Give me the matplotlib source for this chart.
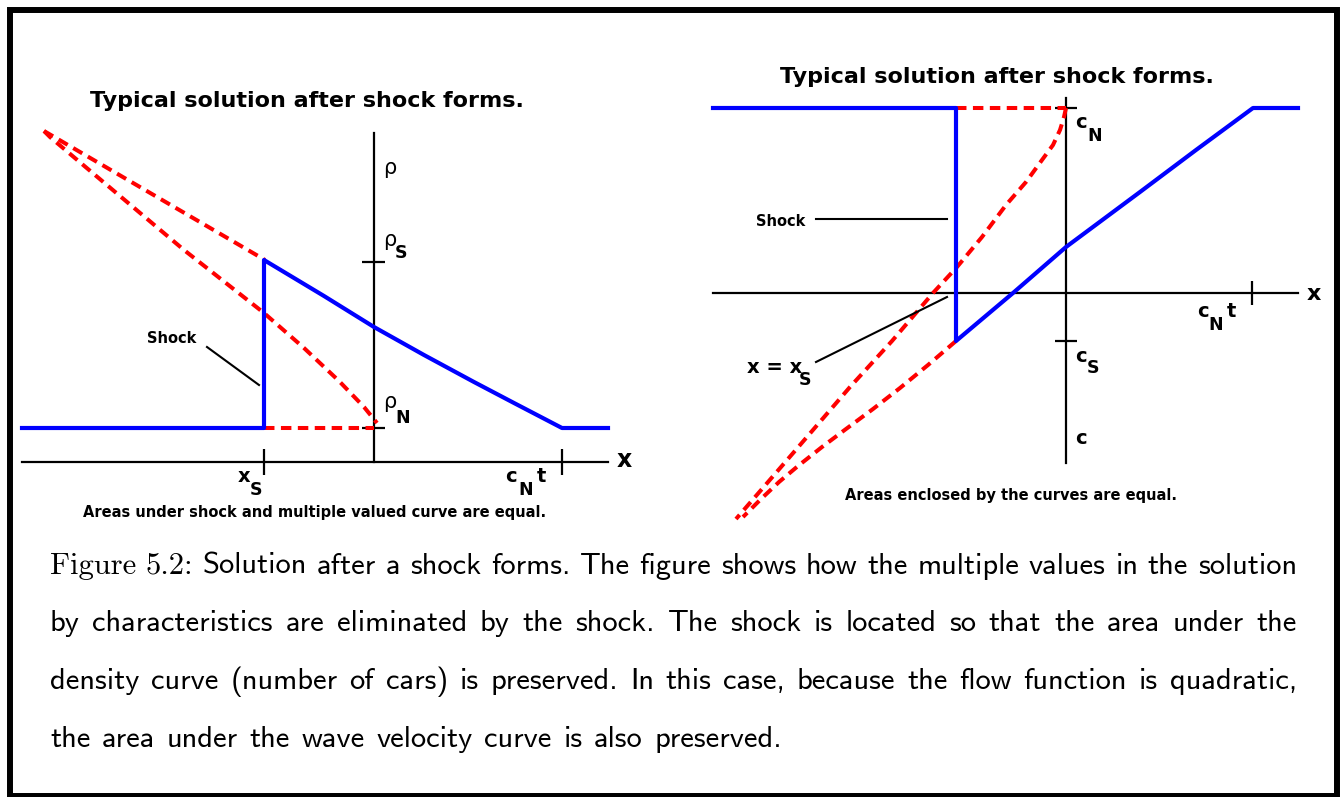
import matplotlib.pyplot as plt
from matplotlib.patches import Rectangle
from matplotlib.transforms import IdentityTransform

# ---- left sketch: density rho(x), sketch units (origin where the axes cross)
rho_x_axis = [-35.2, 23.4]
rho_y_axis = [0.0, 32.9]
rho_ticks_y = [20.0, 3.4]          # rho_S, rho_N
rho_ticks_x = [-11.0, 18.8]        # x_S, c_N t

rho_blue_x = [-35.2, -11.0, -11.0, -5.0, 0.0, 5.0, 10.0, 14.0, 18.8, 23.4]
rho_blue_y = [3.4, 3.4, 20.2, 16.6, 13.5, 10.7, 8.0, 5.9, 3.4, 3.4]
rho_upper_x = [-33.0, -10.9]
rho_upper_y = [33.1, 20.2]
rho_lower_x = [-33.0, -32.4, -26.0, -19.0, -11.0, -7.0, -3.5, -1.0, 0.3]
rho_lower_y = [33.1, 32.5, 27.1, 21.2, 14.9, 11.4, 8.1, 5.5, 3.9]
rho_flat_x = [-11.0, 0.0]
rho_flat_y = [3.4, 3.4]

# ---- right sketch: wave velocity c(x)
c_x_axis = [-35.3, 23.2]
c_y_axis = [-17.0, 19.5]
c_ticks_y = [18.5, -4.8]           # c_N, c_S
c_ticks_x = [18.6]                 # c_N t

c_blue_x = [-35.3, -11.0, -11.0, -5.3, 0.0, 7.4, 13.0, 18.7, 23.2]
c_blue_y = [18.5, 18.5, -4.8, 0.0, 4.6, 10.1, 14.3, 18.5, 18.5]
c_upper_x = [0.0, -0.2, -0.6, -1.3, -2.4, -4.0, -6.0, -8.4, -10.9, -13.3, -17.4, -21.6, -27.2, -33.0]
c_upper_y = [18.5, 17.6, 16.3, 14.8, 13.3, 11.1, 8.8, 5.6, 2.6, 0.0, -4.8, -9.4, -15.9, -22.6]
c_lower_x = [-11.0, -13.8, -16.6, -19.3, -22.0, -24.4, -26.8, -28.7, -30.5, -32.3]
c_lower_y = [-4.8, -7.2, -9.5, -11.6, -13.6, -15.4, -17.3, -18.9, -20.6, -22.4]
c_flat_x = [-11.0, 0.0]
c_flat_y = [18.5, 18.5]

caption = [
    "Figure 5.2: Solution after a shock forms.  The figure shows how the multiple values in the solution",
    "by characteristics are eliminated by the shock.  The shock is located so that the area under the",
    "density curve (number of cars) is preserved.  In this case, because the flow function is quadratic,",
    "the area under the wave velocity curve is also preserved.",
]

BLUE = '#0000ff'
RED = '#ff0000'
DASH = (0, (2.6, 1.6))

fig = plt.figure(figsize=(13.4, 7.97), dpi=100)
fig.patch.set_facecolor('white')

# both sketches use full-figure axes, 10 px per unit
ax_l = fig.add_axes([0, 0, 1, 1])
ax_l.set_xlim(-37.4, 96.6)
ax_l.set_ylim(-33.5, 46.2)
ax_r = fig.add_axes([0, 0, 1, 1])
ax_r.set_xlim(-106.6, 27.4)
ax_r.set_ylim(-50.4, 29.3)
for ax in (ax_l, ax_r):
    ax.set_axis_off()
    ax.patch.set_alpha(0)

# left sketch
ax = ax_l
ax.plot(rho_x_axis, [0, 0], color='black', lw=1.6)
ax.plot([0, 0], rho_y_axis, color='black', lw=1.6)
ax.vlines(rho_ticks_x, -1.3, 1.3, color='black', lw=1.6)
ax.hlines(rho_ticks_y, -1.2, 1.1, color='black', lw=1.6)
ax.plot(rho_upper_x, rho_upper_y, color=RED, lw=2.9, ls=DASH)
ax.plot(rho_lower_x, rho_lower_y, color=RED, lw=2.9, ls=DASH)
ax.plot(rho_flat_x, rho_flat_y, color=RED, lw=2.9, ls=DASH)
ax.plot(rho_blue_x, rho_blue_y, color=BLUE, lw=3.0)
ax.plot([-16.7, -11.5], [11.5, 7.7], color='black', lw=1.5)

ax.text(-6.7, 35.5, 'Typical solution after shock forms.', fontsize=16, fontweight='bold', ha='center', va='baseline')
ax.text(0.9, 28.8, 'ρ', fontsize=15, ha='left', va='baseline')
ax.text(0.9, 21.6, 'ρ', fontsize=15, ha='left', va='baseline')
ax.text(2.1, 20.4, 'S', fontsize=12.5, fontweight='bold', ha='left', va='baseline')
ax.text(0.9, 5.4, 'ρ', fontsize=15, ha='left', va='baseline')
ax.text(2.1, 3.9, 'N', fontsize=12.5, fontweight='bold', ha='left', va='baseline')
ax.text(-13.6, -2.0, 'x', fontsize=14, fontweight='bold', ha='left', va='baseline')
ax.text(-12.4, -3.3, 'S', fontsize=12.5, fontweight='bold', ha='left', va='baseline')
ax.text(13.1, -2.0, 'c', fontsize=14, fontweight='bold', ha='left', va='baseline')
ax.text(14.4, -3.3, 'N', fontsize=12.5, fontweight='bold', ha='left', va='baseline')
ax.text(16.3, -2.0, 't', fontsize=14, fontweight='bold', ha='left', va='baseline')
ax.text(24.3, -0.5, 'x', fontsize=17, fontweight='bold', ha='left', va='baseline')
ax.text(-22.7, 11.9, 'Shock', fontsize=10.5, fontweight='bold', ha='left', va='baseline')
ax.text(-5.9, -5.5, 'Areas under shock and multiple valued curve are equal.', fontsize=10.5,
        fontweight='bold', ha='center', va='baseline')

# right sketch
ax = ax_r
ax.plot(c_x_axis, [0, 0], color='black', lw=1.6)
ax.plot([0, 0], c_y_axis, color='black', lw=1.6)
ax.vlines(c_ticks_x, -1.2, 1.2, color='black', lw=1.6)
ax.hlines(c_ticks_y, -1.1, 1.1, color='black', lw=1.6)
ax.plot(c_upper_x, c_upper_y, color=RED, lw=2.9, ls=DASH)
ax.plot(c_lower_x, c_lower_y, color=RED, lw=2.9, ls=DASH)
ax.plot(c_flat_x, c_flat_y, color=RED, lw=2.9, ls=DASH)
ax.plot(c_blue_x, c_blue_y, color=BLUE, lw=3.0)
ax.plot([-25.0, -11.9], [7.4, 7.4], color='black', lw=1.5)
ax.plot([-25.0, -11.9], [-6.9, -0.4], color='black', lw=1.5)

ax.text(-6.9, 21.0, 'Typical solution after shock forms.', fontsize=16, fontweight='bold', ha='center', va='baseline')
ax.text(0.9, 16.5, 'c', fontsize=14, fontweight='bold', ha='left', va='baseline')
ax.text(2.1, 15.2, 'N', fontsize=12.5, fontweight='bold', ha='left', va='baseline')
ax.text(0.9, -6.9, 'c', fontsize=14, fontweight='bold', ha='left', va='baseline')
ax.text(2.1, -8.0, 'S', fontsize=12.5, fontweight='bold', ha='left', va='baseline')
ax.text(0.9, -15.1, 'c', fontsize=14, fontweight='bold', ha='left', va='baseline')
ax.text(13.1, -2.4, 'c', fontsize=14, fontweight='bold', ha='left', va='baseline')
ax.text(14.2, -3.7, 'N', fontsize=12.5, fontweight='bold', ha='left', va='baseline')
ax.text(16.1, -2.4, 't', fontsize=14, fontweight='bold', ha='left', va='baseline')
ax.text(24.1, -0.7, 'x', fontsize=16, fontweight='bold', ha='left', va='baseline')
ax.text(-31.0, 6.7, 'Shock', fontsize=10.5, fontweight='bold', ha='left', va='baseline')
ax.text(-31.9, -8.0, 'x = x', fontsize=14, fontweight='bold', ha='left', va='baseline')
ax.text(-26.7, -9.2, 'S', fontsize=12.5, fontweight='bold', ha='left', va='baseline')
ax.text(-5.5, -20.7, 'Areas enclosed by the curves are equal.', fontsize=10.5,
        fontweight='bold', ha='center', va='baseline')

# frame round the whole figure
fig.add_artist(Rectangle((10, 1), 1327, 786, transform=IdentityTransform(),
                         fill=False, ec='black', lw=4.3))

# caption, justified between the margins like the typeset original
cap_left, cap_right = 50, 1297
cap_base = [574, 631, 689, 747]
cap_size = 22
renderer = fig.canvas.get_renderer()
for i, line in enumerate(caption):
    words = line.split()
    items = []
    for w in words:
        fam = 'cmr10' if (i == 0 and w in ('Figure', '5.2:')) else 'cmss10'
        t = fig.text(0, 0, w, family=fam, fontsize=cap_size, ha='left', va='baseline',
                     transform=IdentityTransform())
        items.append((t, t.get_window_extent(renderer).width))
    total = sum(wd for _, wd in items)
    if i < len(caption) - 1:
        gap = (cap_right - cap_left - total) / (len(items) - 1)
    else:
        gap = 0.38 * cap_size * 100 / 72
    x = cap_left
    for t, wd in items:
        t.set_position((x, 797 - cap_base[i]))
        x += wd + gap

fig.savefig('out.png', dpi=100)
